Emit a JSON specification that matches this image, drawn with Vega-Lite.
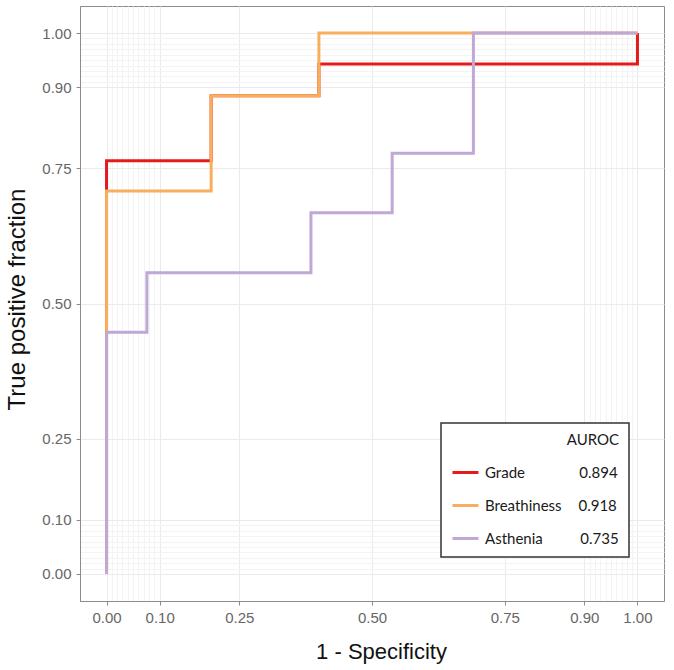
{
  "$schema": "https://vega.github.io/schema/vega-lite/v6.json",
  "autosize": {"type": "none"},
  "padding": {"left": 80, "top": 6, "right": 10, "bottom": 69},
  "width": 584,
  "height": 595,
  "background": "white",
  "data": {
    "values": [
      {"marker": "Grade", "k": 0, "fpr": 0, "tpr": 0},
      {"marker": "Grade", "k": 1, "fpr": 0, "tpr": 0.764},
      {"marker": "Grade", "k": 2, "fpr": 0.197, "tpr": 0.884},
      {"marker": "Grade", "k": 3, "fpr": 0.4, "tpr": 0.943},
      {"marker": "Grade", "k": 4, "fpr": 1, "tpr": 1},
      {"marker": "Breathiness", "k": 0, "fpr": 0, "tpr": 0},
      {"marker": "Breathiness", "k": 1, "fpr": 0, "tpr": 0.708},
      {"marker": "Breathiness", "k": 2, "fpr": 0.197, "tpr": 0.884},
      {"marker": "Breathiness", "k": 3, "fpr": 0.4, "tpr": 1},
      {"marker": "Breathiness", "k": 4, "fpr": 1, "tpr": 1},
      {"marker": "Asthenia", "k": 0, "fpr": 0, "tpr": 0},
      {"marker": "Asthenia", "k": 1, "fpr": 0, "tpr": 0.447},
      {"marker": "Asthenia", "k": 2, "fpr": 0.076, "tpr": 0.557},
      {"marker": "Asthenia", "k": 3, "fpr": 0.385, "tpr": 0.668},
      {"marker": "Asthenia", "k": 4, "fpr": 0.538, "tpr": 0.778},
      {"marker": "Asthenia", "k": 5, "fpr": 0.691, "tpr": 1},
      {"marker": "Asthenia", "k": 6, "fpr": 1, "tpr": 1}
    ]
  },
  "mark": {"type": "line", "interpolate": "step-after", "strokeWidth": 3, "strokeCap": "butt"},
  "encoding": {
    "x": {
      "field": "fpr", "type": "quantitative",
      "scale": {"domain": [-0.05, 1.05], "nice": false, "zero": false},
      "axis": {
        "title": "1 - Specificity",
        "values": [0, 0.01, 0.02, 0.03, 0.04, 0.05, 0.06, 0.07, 0.08, 0.09, 0.1, 0.25, 0.5, 0.75, 0.9, 0.91, 0.92, 0.93, 0.94, 0.95, 0.96, 0.97, 0.98, 0.99, 1],
        "labelExpr": "indexof([0, 0.1, 0.25, 0.5, 0.75, 0.9, 1], datum.value) >= 0 ? format(datum.value, '.2f') : ''",
        "tickOpacity": {"condition": {"test": "indexof([0, 0.1, 0.25, 0.5, 0.75, 0.9, 1], datum.value) >= 0", "value": 1}, "value": 0},
        "gridColor": {"condition": {"test": "indexof([0, 0.1, 0.25, 0.5, 0.75, 0.9, 1], datum.value) >= 0", "value": "#ebebeb"}, "value": "#f3f3f3"},
        "titleX": 301,
        "titleY": 57,
        "titleBaseline": "alphabetic"
      }
    },
    "y": {
      "field": "tpr", "type": "quantitative",
      "scale": {"domain": [-0.05, 1.05], "nice": false, "zero": false},
      "axis": {
        "title": "True positive fraction",
        "values": [0, 0.01, 0.02, 0.03, 0.04, 0.05, 0.06, 0.07, 0.08, 0.09, 0.1, 0.25, 0.5, 0.75, 0.9, 0.91, 0.92, 0.93, 0.94, 0.95, 0.96, 0.97, 0.98, 0.99, 1],
        "labelExpr": "indexof([0, 0.1, 0.25, 0.5, 0.75, 0.9, 1], datum.value) >= 0 ? format(datum.value, '.2f') : ''",
        "tickOpacity": {"condition": {"test": "indexof([0, 0.1, 0.25, 0.5, 0.75, 0.9, 1], datum.value) >= 0", "value": 1}, "value": 0},
        "gridColor": {"condition": {"test": "indexof([0, 0.1, 0.25, 0.5, 0.75, 0.9, 1], datum.value) >= 0", "value": "#ebebeb"}, "value": "#f3f3f3"},
        "titleX": -56,
        "titleY": 293,
        "titleBaseline": "alphabetic",
        "titleFontSize": 24
      }
    },
    "color": {
      "field": "marker", "type": "nominal",
      "scale": {"domain": ["Grade", "Breathiness", "Asthenia"], "range": ["#E41A1C", "#F9AE5B", "#BFA7D6"]},
      "legend": {
        "orient": "none",
        "legendX": 361,
        "legendY": 417,
        "title": "AUROC",
        "titleAnchor": "end",
        "labelExpr": "datum.label == 'Grade' ? 'Grade\u2002\u2002\u2002\u2002\u2002\u2002\u2002\u20090.894' : datum.label == 'Breathiness' ? 'Breathiness\u2002\u2002\u20090.918' : 'Asthenia\u2002\u2002\u2002\u2002\u20020.735'"
      }
    },
    "order": {"field": "k", "type": "quantitative"}
  },
  "config": {
    "font": "Liberation Sans",
    "view": {"stroke": "#8c8c8c", "strokeWidth": 1},
    "axis": {
      "domainColor": "#8c8c8c",
      "tickColor": "#8c8c8c",
      "tickSize": 4,
      "gridWidth": 1,
      "labelFont": "Liberation Sans",
      "labelFontSize": 15,
      "labelColor": "#666666",
      "labelPadding": 5,
      "labelOverlap": false,
      "labelFlush": false,
      "titleFont": "Liberation Sans",
      "titleFontSize": 22,
      "titleFontWeight": "normal",
      "titleColor": "#111111"
    },
    "legend": {
      "titleFont": "Lato",
      "titleFontSize": 15,
      "titleFontWeight": "normal",
      "titleColor": "#1a1a1a",
      "titlePadding": 10,
      "labelFont": "Lato",
      "labelFontSize": 15,
      "labelColor": "#1a1a1a",
      "labelOffset": 5,
      "labelLimit": 400,
      "symbolType": "stroke",
      "symbolSize": 676,
      "symbolStrokeWidth": 3,
      "rowPadding": 10,
      "padding": 10,
      "strokeColor": "#333333",
      "strokeWidth": 1.5,
      "fillColor": "white"
    }
  }
}
